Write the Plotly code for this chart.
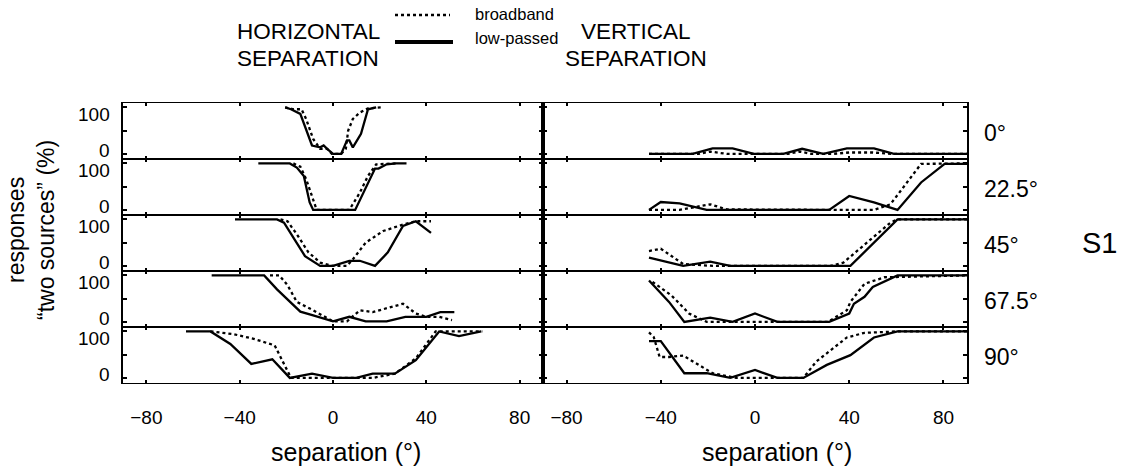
import plotly.graph_objects as go
from plotly.subplots import make_subplots

# ---------------- data (separation in degrees, % "two sources" responses) -------------
elevations = ["0°", "22.5°", "45°", "67.5°", "90°"]
x_ticks = [-80, -40, 0, 40, 80]
y_ticks = [0, 50, 100]
y_labels = [0, 100]

# HORIZONTAL separation, low-passed (solid) and broadband (dotted)
h0_lp_x = [-20.5, -18, -14, -12, -9, -5.5, -4, -2.5, 0, 3.5, 6, 7, 8.5, 12, 15, 18.5]
h0_lp_y = [100, 96, 86, 57, 18, 14, 18, 11, 0, 0, 29, 29, 14, 43, 96, 100]
h0_bb_x = [-20.5, -17, -13.5, -11.5, -8.5, -5.5, -2.5, -0.5, 3.5, 5.5, 6.5, 8.5, 11.5, 15, 20.5]
h0_bb_y = [100, 96, 96, 75, 32, 11, 11, 0, 0, 11, 50, 75, 89, 98, 100]

h1_lp_x = [-32, -18.5, -15.5, -12.5, -10, -8.5, 9.5, 13, 18, 19.5, 23, 27, 31.5]
h1_lp_y = [100, 100, 91, 73, 16, 0, 0, 37, 89, 89, 98, 100, 100]
h1_bb_x = [-17, -14, -11.5, -9, -7, 7, 11.5, 15, 18.5, 27]
h1_bb_y = [100, 93, 66, 30, 0, 0, 37, 73, 98, 100]

h2_lp_x = [-42, -24, -21, -17, -12, -5.5, 0, 7, 11.5, 18, 23.5, 30, 35.5, 42]
h2_lp_y = [100, 100, 93, 61, 21, 0, 0, 11, 11, 0, 29, 86, 96, 71]
h2_bb_x = [-22.5, -19.5, -15.5, -10.5, -5.5, 0, 6, 8.5, 14, 21.5, 30, 35.5, 42]
h2_bb_y = [100, 96, 68, 29, 7, 0, 0, 14, 50, 75, 89, 96, 96]

h3_lp_x = [-52, -29.5, -24, -18, -14, -8.5, 0, 7, 14, 23, 31, 40, 46, 52]
h3_lp_y = [100, 100, 70, 40, 22, 14, 1, 11, 1, 1, 11, 11, 21, 21]
h3_bb_x = [-27, -23, -19.5, -15.5, -8.5, 0, 6, 11.5, 17, 23, 30, 35.5, 40, 45.5, 51]
h3_bb_y = [100, 100, 79, 43, 25, 1, 1, 25, 21, 29, 39, 18, 11, 11, 4]

h4_lp_x = [-63, -52.5, -44, -35, -26, -18.5, -9, 0, 10, 17, 26.5, 35.5, 45.5, 54, 63.5]
h4_lp_y = [100, 100, 73, 30, 40, 0, 9, 0, 0, 9, 9, 38, 100, 90, 100]
h4_bb_x = [-52.5, -42.5, -34, -25, -21.5, -18, -10.5, 17, 26.5, 35.5, 44, 64]
h4_bb_y = [100, 94, 84, 70, 35, 0, 0, 0, 9, 42, 100, 100]

# VERTICAL separation
v0_lp_x = [-45, -26.5, -18, -9.5, -0.5, 12, 20, 29, 39, 50.5, 59, 90]
v0_lp_y = [0, 0, 12, 12, 0, 0, 11, 0, 12, 12, 0, 0]
v0_bb_x = [-45, -24, -19, -12, 14, 19, 24, 33, 40, 50, 58, 90]
v0_bb_y = [0, 0, 5, 0, 0, 5, 0, 0, 3, 3, 0, 0]

v1_lp_x = [-45, -40, -32, -20.5, 31.5, 40, 50.5, 60.5, 70.5, 80.5, 90]
v1_lp_y = [0, 17, 14, 0, 0, 30, 16, 0, 59, 99, 99]
v1_bb_x = [-45, -32, -19, -12, 33.5, 50.5, 57.5, 70.5, 90]
v1_bb_y = [0, 0, 12, 1, 0, 0, 12, 99, 100]

v2_lp_x = [-45, -30.5, -19, -10.5, 40.5, 60.5, 90]
v2_lp_y = [18, 0, 9, 0, 0, 100, 100]
v2_bb_x = [-45, -40, -30.5, -18, 32, 37.5, 57.5, 60.5, 90]
v2_bb_y = [32, 37, 4, 0, 0, 7, 93, 100, 100]

v3_lp_x = [-45, -36.5, -30, -19, -9.5, 0, 9.5, 31.5, 40, 42, 46.5, 50, 60.5, 90]
v3_lp_y = [89, 43, 0, 9, 0, 18, 0, 0, 18, 39, 54, 75, 100, 100]
v3_bb_x = [-43.5, -35.5, -32, -28, -20.5, 31, 39, 40.5, 46.5, 55, 90]
v3_bb_y = [86, 57, 39, 18, 0, 0, 25, 43, 82, 96, 100]

v4_lp_x = [-45, -40, -30, -20.5, -10.5, 0, 9.5, 20.5, 30.5, 40.5, 50.5, 60.5, 90]
v4_lp_y = [79, 79, 10, 10, 0, 17, 0, 0, 28, 49, 87, 100, 100]
v4_bb_x = [-45, -43, -40.5, -36.5, -30.5, -25, -18, -8, 8, 20.5, 26, 39, 46.5, 60.5, 90]
v4_bb_y = [98, 88, 45, 45, 48, 31, 10, 0, 0, 0, 35, 87, 97, 100, 100]

horiz = [(h0_lp_x, h0_lp_y, h0_bb_x, h0_bb_y), (h1_lp_x, h1_lp_y, h1_bb_x, h1_bb_y),
         (h2_lp_x, h2_lp_y, h2_bb_x, h2_bb_y), (h3_lp_x, h3_lp_y, h3_bb_x, h3_bb_y),
         (h4_lp_x, h4_lp_y, h4_bb_x, h4_bb_y)]
vert = [(v0_lp_x, v0_lp_y, v0_bb_x, v0_bb_y), (v1_lp_x, v1_lp_y, v1_bb_x, v1_bb_y),
        (v2_lp_x, v2_lp_y, v2_bb_x, v2_bb_y), (v3_lp_x, v3_lp_y, v3_bb_x, v3_bb_y),
        (v4_lp_x, v4_lp_y, v4_bb_x, v4_bb_y)]

# ---------------- layout ----------------
W, H = 1129, 468
FONT = "Liberation Sans, Arial, sans-serif"
X_LEFT = (123, 543)
X_RIGHT = (543, 967)
TOP, ROW_H = 103, 56

fig = make_subplots(rows=5, cols=2, horizontal_spacing=0, vertical_spacing=0)

for r in range(5):
    for c, data in enumerate([horiz, vert]):
        lpx, lpy, bbx, bby = data[r]
        fig.add_trace(go.Scatter(x=bbx, y=bby, mode="lines",
                                 line=dict(color="black", width=2.3, dash="dot"),
                                 showlegend=False, hoverinfo="skip"), row=r + 1, col=c + 1)
        fig.add_trace(go.Scatter(x=lpx, y=lpy, mode="lines",
                                 line=dict(color="black", width=2.3),
                                 showlegend=False, hoverinfo="skip"), row=r + 1, col=c + 1)

ann = []
for r in range(5):
    y_top = 1 - (TOP + ROW_H * r) / H
    y_bot = 1 - (TOP + ROW_H * (r + 1)) / H
    for c in range(2):
        xd = X_LEFT if c == 0 else X_RIGHT
        fig.update_xaxes(row=r + 1, col=c + 1,
                         domain=[xd[0] / W, xd[1] / W], range=[-90, 90],
                         tickvals=x_ticks, ticks="inside", ticklen=3, tickwidth=2,
                         tickcolor="black",
                         showline=True, mirror="ticks", linecolor="black", linewidth=1.3,
                         showgrid=False, zeroline=False,
                         showticklabels=(r == 4), ticklabelstandoff=17,
                         tickfont=dict(family=FONT, size=19, color="black"))
        fig.update_yaxes(row=r + 1, col=c + 1,
                         domain=[y_bot, y_top], range=[-11, 109.5],
                         tickvals=y_ticks, showticklabels=False,
                         ticks="inside", ticklen=4, tickwidth=1.5, tickcolor="black",
                         showline=True, mirror="ticks", linecolor="black",
                         linewidth=2 if c == 0 else 1.6,
                         showgrid=False, zeroline=False)
    # y tick labels of the left column, anchored on the row's own y scale
    yref = "y" if r == 0 else f"y{2 * r + 1}"
    for v in y_labels:
        ann.append(dict(xref="paper", x=112 / W, xanchor="right",
                        yref=yref, y=v, yanchor="middle",
                        yshift=-7 if v == 100 else 3, text=str(v), showarrow=False,
                        font=dict(family=FONT, size=19, color="black")))


def txt(x, y, s, size, xanchor="center", angle=0):
    ann.append(dict(x=x / W, y=1 - y / H, xref="paper", yref="paper", text=s,
                    showarrow=False, xanchor=xanchor, yanchor="middle", textangle=angle,
                    font=dict(family=FONT, size=size, color="black")))


txt(235, 32, "HORIZONTAL", 22.5, "left")
txt(235, 58, "SEPARATION", 22.5, "left")
txt(636, 32, "VERTICAL", 22.5)
txt(636, 58, "SEPARATION", 22.5)
txt(473, 14, "broadband", 16.5, "left")
txt(473, 38, "low-passed", 16.5, "left")
txt(346, 452, "separation (°)", 25)
txt(777, 452, "separation (°)", 25)
txt(31, 230, "responses<br>“two sources” (%)", 23, angle=-90)
for r, lab in enumerate(elevations):
    txt(982, TOP + ROW_H * r + 30, lab, 23, "left")
txt(1099, 243, "S1", 29)

shapes = [
    dict(type="line", xref="paper", yref="paper", x0=395 / W, x1=450 / W,
         y0=1 - 15 / H, y1=1 - 15 / H, line=dict(color="black", width=2.5, dash="dot")),
    dict(type="line", xref="paper", yref="paper", x0=395 / W, x1=453 / W,
         y0=1 - 42 / H, y1=1 - 42 / H, line=dict(color="black", width=4)),
]

fig.update_layout(width=W, height=H, margin=dict(l=0, r=0, t=0, b=0),
                  paper_bgcolor="white", plot_bgcolor="white",
                  annotations=ann, shapes=shapes, showlegend=False)

fig.write_html("out.html", config={"displayModeBar": False},
               post_script="document.body.style.margin='0';document.body.style.overflow='hidden';")
